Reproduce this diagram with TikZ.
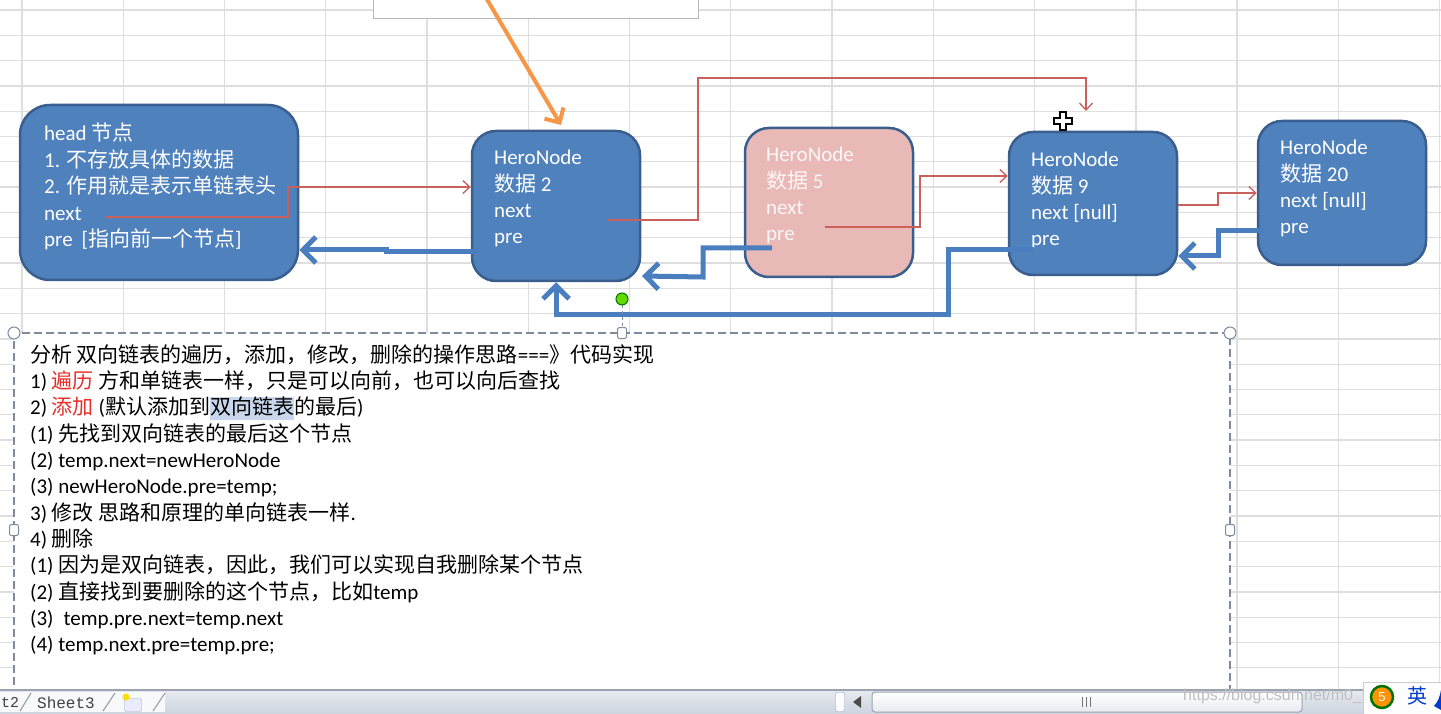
\documentclass[tikz,border=0pt]{standalone}
\usepackage{fontspec}
\setmainfont{Carlito}
\newfontfamily\cjk{Noto Sans CJK SC}
\newfontfamily\monof{Liberation Mono}
\newfontfamily\wmfont{Liberation Sans}
\usetikzlibrary{arrows.meta}
\newcommand\zh[1]{{\cjk #1}}
\newcommand\hlbox[1]{{\setlength\fboxsep{0pt}\colorbox{hl}{\rule[-5pt]{0pt}{23pt}#1}}}
\newcommand\bigtxt{\fontsize{21}{26}\selectfont}
\definecolor{nodeblue}{HTML}{4F81BD}
\definecolor{nodeedge}{HTML}{3A5F8E}
\definecolor{pinkfill}{HTML}{E8B9B6}
\definecolor{linkred}{HTML}{C9605B}
\definecolor{linkblue}{HTML}{4A7EBF}
\definecolor{arroworange}{HTML}{F79646}
\definecolor{gridc}{HTML}{DEDEDE}
\definecolor{zred}{HTML}{E8302A}
\definecolor{hl}{HTML}{C9D7EC}
\definecolor{dashc}{HTML}{7D8BA0}
\definecolor{bartop}{HTML}{E6EAF0}
\definecolor{barbot}{HTML}{CDD4DE}
\definecolor{baredge}{HTML}{9AA3AF}
\begin{document}
\begin{tikzpicture}[x=1pt,y=-1pt,
  gridline/.style={draw=gridc, line width=1.3pt},
  box/.style={draw=nodeedge, line width=2.5pt, rounded corners=24pt, fill=nodeblue, inner sep=0pt},
  pinkbox/.style={box, fill=pinkfill},
  txt/.style={inner sep=0pt, anchor=base west, font=\bigtxt},
  wtxt/.style={txt, text=white},
  ptxt/.style={txt, text=white!88!pinkfill},
  link/.style={draw=linkred, line width=1.3pt, line join=miter, -{Straight Barb[length=7pt,width=13pt]}},
  back/.style={draw=linkblue, line width=5pt, line join=miter, -{Straight Barb[length=13pt,width=26pt]}},
  handle/.style={draw=dashc, fill=white, line width=1pt}
]
\useasboundingbox (0,0) rectangle (1441,714);
\fill[white] (0,0) rectangle (1441,714);
% spreadsheet grid
\foreach \k in {0,...,14} \draw[gridline] ({22+101.26*\k},-2) -- ({22+101.26*\k},692);
\foreach \k in {0,...,27} \draw[gridline] (-2,{10+25.3*\k}) -- (1443,{10+25.3*\k});
% top box
\node[draw=black!28, fill=white, line width=1pt, minimum width=325pt, minimum height=30pt, inner sep=0pt] (topbox) at (535.5,4) {};
% nodes
\node[box, rounded corners=30pt, minimum width=278pt, minimum height=175pt] (head) at (159,192.5) {};
\node[box, minimum width=168pt, minimum height=150pt] (n2) at (556,206) {};
\node[pinkbox, minimum width=168pt, minimum height=149pt] (n5) at (829,202.5) {};
\node[box, minimum width=168pt, minimum height=143pt] (n9) at (1093,203.5) {};
\node[box, minimum width=168pt, minimum height=144pt] (n20) at (1342,193) {};
% node texts
\foreach \s [count=\i] in {{head \zh{节点}},{1. \zh{不存放具体的数据}},{2. \zh{作用就是表示单链表头}},{next},{pre\hspace{9pt}[\zh{指向前一个节点}]}}
  \node[wtxt] (head-\i) at (44,{141+(\i-1)*26.5}) {\s};
\foreach \s [count=\i] in {{HeroNode},{\zh{数据} 2},{next},{pre}}
  \node[wtxt] (n2-\i) at (494,{165+(\i-1)*26.2}) {\s};
\foreach \s [count=\i] in {{HeroNode},{\zh{数据} 5},{next},{pre}}
  \node[ptxt] (n5-\i) at (766,{162+(\i-1)*26.2}) {\s};
\foreach \s [count=\i] in {{HeroNode},{\zh{数据} 9},{next [null]},{pre}}
  \node[wtxt] (n9-\i) at (1031,{167+(\i-1)*26.2}) {\s};
\foreach \s [count=\i] in {{HeroNode},{\zh{数据} 20},{next [null]},{pre}}
  \node[wtxt] (n20-\i) at (1280,{155+(\i-1)*26.2}) {\s};
% red next links
\coordinate (hnext) at (105,217);
\coordinate (n2next) at (608,220);
\coordinate (n9top) at (1086,111);
\coordinate (n5pre) at (825,227);
\draw[link] (hnext) -- (288,217) -- (288,187) -- (n2.west |- 0,187);
\draw[link] (n2next) -- (698,220) -- (698,78) -- (1086,78) -- (n9top);
\draw[link] (n5pre) -- (920,227) -- (920,176) -- (n9.west |- 0,176);
\draw[link] (n9.east |- 0,205) -- (1218,205) -- (1218,193) -- (n20.west |- 0,193);
% blue pre links
\coordinate (n2pre) at (478,252);
\coordinate (n5preout) at (772,248);
\coordinate (n2corner) at (642,276);
\coordinate (n9pre) at (1034,250);
\coordinate (n20pre) at (1263,231);
\draw[back] (n2pre) -- (386,252) -- (386,250) -- (head.east |- 0,250);
\draw[back] (n5preout) -- (703,248) -- (703,277) -- (n2corner);
\draw[back] (n9pre) -- (948,250) -- (948,314) -- (556,314) -- (n2.south -| 556,0);
\draw[back] (n20pre) -- (1218,231) -- (1218,256) -- (n9.east |- 0,256);
% orange arrow
\coordinate (orstart) at (485,-4);
\coordinate (orend) at (561,125);
\draw[draw=arroworange, line width=4pt, -{Straight Barb[length=11pt,width=22pt]}] (orstart) -- (orend);
% move cursor
\filldraw[fill=white, draw=black, line width=1.2pt] (1060,112) -- (1066,112) -- (1066,118) -- (1072,118) -- (1072,124) -- (1066,124) -- (1066,130) -- (1060,130) -- (1060,124) -- (1054,124) -- (1054,118) -- (1060,118) -- cycle;
% text box
\node[draw=dashc, fill=white, line width=1.6pt, dash pattern=on 8pt off 4pt, minimum width=1216pt, minimum height=380pt, inner sep=0pt] (tbox) at (622,523) {};
\foreach \s [count=\i] in {
  {\zh{分析 双向链表的遍历，添加，修改，删除的操作思路}===\zh{》代码实现}},
  {1) \textcolor{zred}{\zh{遍历}} \zh{方和单链表一样，只是可以向前，也可以向后查找}},
  {2) \textcolor{zred}{\zh{添加}} (\zh{默认添加到\hlbox{双向链表}的最后})},
  {(1) \zh{先找到双向链表的最后这个节点}},
  {(2) temp.next=newHeroNode},
  {(3) newHeroNode.pre=temp;},
  {3) \zh{修改 思路和原理的单向链表一样}.},
  {4) \zh{删除}},
  {(1) \zh{因为是双向链表，因此，我们可以实现自我删除某个节点}},
  {(2) \zh{直接找到要删除的这个节点，比如}temp},
  {(3)\hspace{10pt}temp.pre.next=temp.next},
  {(4) temp.next.pre=temp.pre;}}
  \node[txt, text=black] (tl-\i) at (30,{362+(\i-1)*26.36}) {\s};
% selection handles
\draw[dashc, line width=1pt, dash pattern=on 3pt off 3pt] (622,305) -- (622,328);
\node[circle, draw=black!55!green, fill=green!55!yellow!85!black, line width=1pt, minimum size=12pt, inner sep=0pt] (rot) at (622,299) {};
\node[handle, circle, minimum size=12pt, inner sep=0pt] (hc1) at (14,333) {};
\node[handle, circle, minimum size=12pt, inner sep=0pt] (hc2) at (1230,333) {};
\node[handle, rounded corners=2pt, minimum width=9pt, minimum height=11pt, inner sep=0pt] (hm1) at (622,333) {};
\node[handle, rounded corners=2pt, minimum width=9pt, minimum height=11pt, inner sep=0pt] (hm2) at (14,530) {};
\node[handle, rounded corners=2pt, minimum width=9pt, minimum height=11pt, inner sep=0pt] (hm3) at (1230,530) {};
% bottom sheet bar
\fill[top color=bartop, bottom color=barbot] (0,690) rectangle (1441,714);
\draw[baredge, line width=1.2pt] (0,690) -- (1441,690);
\fill[white!70!bartop] (0,692) rectangle (165,712);
\draw[baredge, line width=1.2pt] (20,711) -- (31,693) (103,711) -- (115,693) (153,711) -- (165,693);
\node[inner sep=0pt, anchor=west, font=\monof\fontsize{15}{18}\selectfont, text=black!75] (sh2) at (1,703) {t2};
\node[inner sep=0pt, font=\monof\fontsize{16}{18}\selectfont, text=black!75] (sh3) at (66,703) {Sheet3};
\node[draw=baredge, fill=blue!8, rounded corners=2pt, minimum width=17pt, minimum height=13pt, inner sep=0pt] (newsheet) at (133,705) {};
\node[circle, fill=yellow!80!orange, minimum size=7pt, inner sep=0pt] (star) at (126,697) {};
\node[draw=baredge, fill=white!85!bartop, rounded corners=2pt, minimum width=9pt, minimum height=19pt, inner sep=0pt] (split) at (840,702) {};
\fill[black!70] (853,702) -- (861,696) -- (861,708) -- cycle;
\node[draw=baredge, line width=1pt, top color=white, bottom color=bartop, rounded corners=3pt, minimum width=430pt, minimum height=20pt, inner sep=0pt] (thumb) at (1087,702) {};
\draw[black!55, line width=0.8pt] (1082,697) -- (1082,707) (1086,697) -- (1086,707) (1090,697) -- (1090,707);
\node[inner sep=0pt, anchor=west, font=\wmfont\fontsize{16}{18}\selectfont, text=black!25] (wm) at (1183,696) {https://blog.csdn.net/m0\_5};
\node[draw=black!20, fill=white!92!bartop, minimum width=78pt, minimum height=32pt, inner sep=0pt] (ime) at (1402,698) {};
\node[circle, draw=green!45!black, line width=2.5pt, fill=orange!85!yellow, minimum size=22pt, inner sep=0pt, font=\wmfont\fontsize{13}{14}\selectfont, text=white] (imelogo) at (1382,697) {5};
\node[inner sep=0pt, font=\cjk\fontsize{20}{22}\selectfont, text=blue!70!cyan!80!black] (imechar) at (1417,696) {英};
\fill[blue!70!cyan!80!black] (1434,706) .. controls (1438,702) and (1440,696) .. (1441,690) -- (1441,710) -- cycle;
\end{tikzpicture}
\end{document}
